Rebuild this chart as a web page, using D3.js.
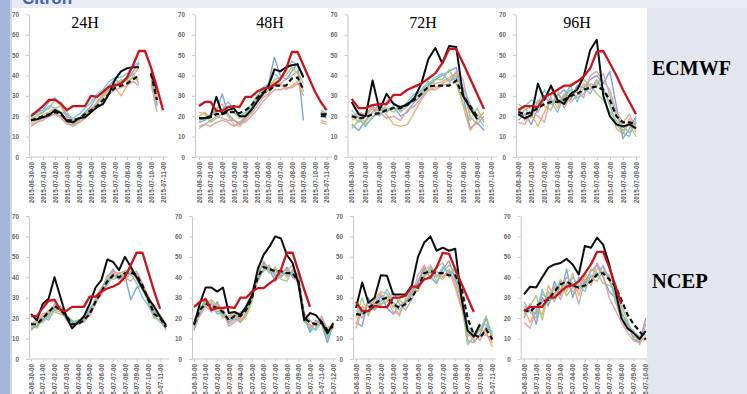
<!DOCTYPE html>
<html>
<head>
<meta charset="utf-8">
<script src="https://cdn.jsdelivr.net/npm/d3@7"></script>
<style>
  html, body { margin: 0; padding: 0; background: #e2e6ef; }
  svg { display: block; }
</style>
</head>
<body>
<svg id="chart" width="747" height="394"></svg>
<script>
// day labels on the x axis, data every 12 hours
const days = ["2015-06-30","2015-07-01","2015-07-02","2015-07-03","2015-07-04","2015-07-05","2015-07-06",
  "2015-07-07","2015-07-08","2015-07-09","2015-07-10","2015-07-11","2015-07-12"];
const halfDays = days.flatMap(d => [d + "-00", d + "-12"]);
const yTicks = [0, 10, 20, 30, 40, 50, 60, 70];
const leads = ["24H", "48H", "72H", "96H"];
const models = ["ECMWF", "NCEP"];

// ---- ECMWF ----
const obsEc24 = [20,22.5,25,28,28,26,23,25,25,25,30,29.5,32,34.5,35,36,39,45,52,52,44,34,23];
const ctlEc24 = [18,18.5,19.5,20.5,23,21.5,17.5,17,19,19.5,22,24.5,26,31,38,42,43.5,44,44,null,41,33,null];
const meanEc24 = [18,19,20,21,22,21,18,18,19,21,23,25,28,31,34,35,36,38,40,null,41,28,null];
const memEc24 = [
  [20,22,23,27,29,26,20,18,19,22,25,30,32,35,38,36,38,42,46,null,42,25,null],
  [17,18,21,22,24,25,19,16,18,20,24,26,29,33,34,30,35,40,44,null,40,30,null],
  [16,17,19,20,21,20,17,15,17,19,22,27,31,33,36,37,38,41,36,null,36,22,null],
  [19,20,22,24,28,27,22,17,18,21,23,27,30,34,35,38,37,39,38,null,38,27,null],
  [15,17,18,20,21,19,16,16,17,19,22,24,27,31,33,34,35,37,35,null,39,26,null],
  [21,21,22,25,24,22,21,19,21,24,27,31,33,37,39,39,41,44,47,null,41,32,null]
];

const obsEc48 = [25,27,27,22.5,22.5,24.5,25,24.5,29.5,29.5,32,33.5,34,35.5,38,43,51.5,51.5,45,38.5,32,27,23];
const ctlEc48 = [19,19,20,29.5,21,23,24,20,20,23,27,31,35,43,42,44,45,45.5,39,null,null,21,21];
const meanEc48 = [19,19,19.5,21,21,22,22,21.5,23,25,29,31.5,32.5,35,35,35,38.5,39,33,null,null,20,20];
const memEc48 = [
  [17,18,20,22,31,21,18,16,19,24,28,32,36,49,40,38,42,46,18,null,null,22,20],
  [20,22,19,24,26,20,16,15,18,22,27,30,33,37,36,33,35,37,30,null,null,18,17],
  [15,16,18,20,19,18,18,17,20,21,25,29,31,35,36,38,40,42,36,null,null,23,21],
  [22,21,17,19,21,25,22,19,21,26,30,33,34,38,39,40,44,41,32,null,null,20,22],
  [14,16,15,17,18,17,15,17,17,20,23,27,30,33,33,34,34,36,34,null,null,17,16],
  [18,19,21,23,23,27,24,20,22,24,29,34,36,41,38,42,47,45,40,null,null,21,19]
];

const obsEc72 = [28.5,24,24,25.5,26,26,30.5,30.5,33,34.5,36,38.5,41,46,53,53,46,38.5,31,23.5,null];
const ctlEc72 = [27,21,20,37.5,23,31,26,24.5,25.5,29,36,48,53.5,46,54.5,54,30,24,18.5,null,null];
const meanEc72 = [20,19,19.5,21,21.5,23,24,24,26,28,31,34.5,35,35,35,37.5,30,25,20,null,19];
const memEc72 = [
  [16,13,18,22,26,22,25,20,22,27,30,35,38,40,42,44,30,14,17,13,null],
  [18,20,17,22,24,21,16,15,16,22,28,33,34,36,38,40,25,13,18,22,null],
  [21,17,20,24,20,26,27,22,25,28,33,37,36,37,39,41,33,20,16,20,null],
  [14,18,16,19,23,24,22,25,26,29,31,34,38,38,43,36,26,18,24,17,null],
  [19,22,21,25,22,19,20,18,23,25,29,33,33,35,36,42,38,22,21,18,null],
  [23,19,15,20,21,23,24,23,27,31,32,36,39,41,37,39,34,26,20,15,null]
];

const obsEc96 = [23,25,25,24.5,29.5,31,33,35,35,37,39.5,43.5,51.7,52,46,40,33,27,21];
const ctlEc96 = [21,19,20.5,36,28,35,28,26,31,33,39.5,52.5,57.5,30,20,16,15,16,14];
const meanEc96 = [22,21,22,24,26,27,27,28,30,31,33,34,34.5,33,28,20,17,17,16];
const memEc96 = [
  [18,21,16,24,30,26,30,33,28,35,34,38,40,36,42,25,9,14,20],
  [24,18,21,15,22,29,24,31,27,30,36,33,38,32,27,14,11,19,12],
  [20,23,25,22,28,34,26,29,33,29,31,36,35,41,30,20,15,12,17],
  [26,24,19,28,25,23,31,27,36,37,38,35,31,28,22,18,13,16,10],
  [17,16,22,20,17,30,33,24,30,32,29,40,42,37,33,22,17,21,14],
  [22,25,28,26,33,27,22,30,35,27,34,31,37,34,25,16,12,10,19]
];

// ---- NCEP ----
const obsNc24 = [21,21,25,28.5,29,24,23.5,25.5,25.5,25.5,30.5,30.5,33,34.5,35.5,37,40,46,52,52,42.5,33,24.5,null];
const ctlNc24 = [22,19,27,29.5,40,30.5,20.7,15,18,20.7,27,35,38.6,48.7,47.5,43.5,50,45,40,34.5,29.6,25.6,20.7,16.6];
const meanNc24 = [17,17,20,23,26,24,21,17,17,19,22,28,33,38,41,40,42,42.5,41,36,29,22,20,15.6];
const memNc24 = [
  [15,16,19,22,25,26,22,18,17,19,23,29,34,40,44,39,41,29,35,36,29,22,21,16],
  [16,18,21,20,24,23,20,16,18,20,21,27,32,37,42,41,38,43,39,34,28,20,19,15],
  [14,17,18,21,27,25,19,17,19,18,22,30,35,39,40,42,43,41,43,37,30,23,21,17],
  [18,15,20,24,23,22,21,19,17,20,24,28,33,41,39,40,43,44,40,35,27,20,22,16],
  [17,19,22,23,26,24,22,16,18,21,23,29,31,38,43,42,40,38,42,36,31,24,20,14],
  [15,17,20,19,24,25,20,18,19,19,25,28,34,36,41,39,42,42,37,30,26,21,18,15]
];

const obsNc48 = [25.4,28,29.3,24,25,25,25.4,25,30,30,33,34.7,34.7,37,39,43.8,52,52,43,34,25.5,null,null,null,null];
const ctlNc48 = [16.7,27,35,35,33,35,22.5,23,21.6,25.7,31,44,51,55,60,59,51,47,37,19,22.5,21.5,18,12.6,17.5];
const meanNc48 = [17,24,27,26,25,23,19,21,21,24,30,40,45,44,43,43,42,42,38,20,18,17,18,14,16];
const memNc48 = [
  [14,22,29,24,28,22,18,20,18,23,29,42,47,44,38,41,45,40,39,21,13,19,17,8,17],
  [16,26,25,28,24,21,20,22,19,22,31,38,44,45,42,44,40,43,41,19,15,18,19,12,15],
  [18,23,30,25,23,25,17,19,22,26,33,41,48,43,44,40,43,46,36,22,19,16,20,15,17],
  [15,25,27,29,26,20,21,23,18,21,28,43,46,42,45,39,38,44,40,18,17,14,18,10,18],
  [17,21,26,23,27,24,16,18,20,25,32,39,44,46,40,42,44,41,37,23,16,17,21,13,16],
  [19,24,28,27,22,23,19,21,23,24,30,40,43,45,41,43,41,42,42,20,14,15,19,11,17]
];

const obsNc72 = [28,23.4,23.4,26,25.4,25.4,30,30,31,35.4,35.4,39,40,44.8,52,51.5,44,37,30,23,null,null,null];
const ctlNc72 = [25,37.4,27.5,30,41,40.7,31.6,31.6,31.6,36,50,57,60,53,54.5,53,54,30,14,11,17,null,null];
const meanNc72 = [22,21.5,25,27,29,30,27,25,27,30,35,42,43,42,42,41,41,35,20,12,10.5,14.5,9.5];
const memNc72 = [
  [18,16,30,24,31,25,22,26,28,32,38,45,40,37,44,48,39,30,9,8,12,20,10],
  [17,26,22,29,33,32,27,21,30,33,35,43,46,41,39,43,35,25,14,10,15,13,6],
  [24,20,28,24,27,28,33,27,24,29,37,44,42,45,47,40,45,33,11,13,9,16,12],
  [20,30,21,30,26,31,25,29,26,35,33,40,44,38,42,46,42,28,7,11,14,21,11],
  [15,24,26,27,32,29,23,22,29,31,41,46,39,43,40,44,37,26,13,9,11,12,8],
  [26,22,24,25,28,34,28,24,27,34,36,41,45,40,45,42,44,31,16,12,16,17,13]
];

const obsNc96 = [23.4,25.5,25.5,25.5,30,30,33,35.4,36,38,41.9,46.3,52.4,52.4,45,36,27,null,null,null,null];
const ctlNc96 = [31.6,35.4,35,40,44.7,46.3,47,49,46.3,41.4,55.3,54.5,59.4,56,46.3,34,20,15,12.8,9.8,13.6];
const meanNc96 = [24,23,26,28,29,33,36.5,38,36,35,36,38,41.4,42,39,35.7,29,21.8,17,13.6,9.5];
const memNc96 = [
  [20,27,17,30,26,38,31,44,30,40,37,43,46,40,33,30,22,18,10,8,20],
  [25,18,24,22,36,30,39,33,42,31,41,36,44,45,38,32,24,15,12,9,11],
  [28,23,20,32,29,35,34,40,37,27,39,40,38,43,41,28,20,16,14,7,17],
  [22,26,31,19,33,28,37,31,35,38,35,44,42,37,36,34,26,19,11,10,9],
  [18,15,24,28,30,36,29,37,33,34,42,38,47,41,30,24,18,13,9,8,19],
  [26,24,22,34,27,32,38,35,40,36,33,41,40,46,39,31,23,17,13,11,12]
];

const panels = [
  {obs: obsEc24, ctl: ctlEc24, mean: meanEc24, mem: memEc24},
  {obs: obsEc48, ctl: ctlEc48, mean: meanEc48, mem: memEc48},
  {obs: obsEc72, ctl: ctlEc72, mean: meanEc72, mem: memEc72},
  {obs: obsEc96, ctl: ctlEc96, mean: meanEc96, mem: memEc96},
  {obs: obsNc24, ctl: ctlNc24, mean: meanNc24, mem: memNc24},
  {obs: obsNc48, ctl: ctlNc48, mean: meanNc48, mem: memNc48},
  {obs: obsNc72, ctl: ctlNc72, mean: meanNc72, mem: memNc72},
  {obs: obsNc96, ctl: ctlNc96, mean: meanNc96, mem: memNc96}
];

// pixel layout of each pasted excel chart
const layout = [
  {x0: 31,    x1: 163,   axisX: 29,    axisEnd: 168, y0: 157, y70: 14.3},
  {x0: 199,   x1: 326.6, axisX: 195,   axisEnd: 332, y0: 157, y70: 14.3},
  {x0: 351.7, x1: 491,   axisX: 347.5, axisEnd: 497, y0: 157, y70: 14.3},
  {x0: 518.3, x1: 636,   axisX: 516,   axisEnd: 640, y0: 157, y70: 14.3},
  {x0: 31,    x1: 166,   axisX: 29,    axisEnd: 169, y0: 359, y70: 216},
  {x0: 194,   x1: 333.2, axisX: 192,   axisEnd: 336, y0: 359, y70: 216},
  {x0: 356,   x1: 492.4, axisX: 353,   axisEnd: 496, y0: 359, y70: 216},
  {x0: 524,   x1: 645.7, axisX: 520.7, axisEnd: 647, y0: 359, y70: 216}
];
const titlePos = [[85, 28], [270, 28], [423, 28], [577, 28]];
const memColors = ["#6f9bd1", "#f5a462", "#b4a99a", "#a3c46e", "#de9aa0", "#6cc3d6"];

const svg = d3.select("#chart");

// slide background
svg.append("rect").attr("x", 0).attr("y", 0).attr("width", 747).attr("height", 394).attr("fill", "#e2e6ef");
svg.append("rect").attr("x", 0).attr("y", 0).attr("width", 747).attr("height", 8).attr("fill", "#e8ebf2");
svg.append("rect").attr("x", 0).attr("y", 0).attr("width", 10).attr("height", 394).attr("fill", "#a6b6db");
svg.append("rect").attr("x", 10).attr("y", 0).attr("width", 2).attr("height", 394).attr("fill", "#cdd6eb");
svg.append("text").attr("x", 22).attr("y", 4).attr("font-family", "Liberation Sans, Arial, sans-serif")
  .attr("font-weight", "bold").attr("font-size", 17).attr("fill", "#3c62b3").text("Citron");
svg.append("rect").attr("x", 12).attr("y", 8).attr("width", 635).attr("height", 386).attr("fill", "#ffffff");

panels.forEach((p, k) => {
  const L = layout[k];
  const n = p.obs.length;
  const cats = halfDays.slice(0, n);
  const x = d3.scalePoint().domain(cats).range([L.x0, L.x1]);
  const y = d3.scaleLinear().domain([0, 70]).range([L.y0, L.y70]);
  const g = svg.append("g");

  // y axis
  g.append("g").attr("transform", `translate(${L.axisX},0)`)
    .call(d3.axisLeft(y).tickValues(yTicks).tickSize(3).tickPadding(7).tickSizeOuter(0))
    .call(a => a.select(".domain").attr("stroke", "#c8c8c8"))
    .call(a => a.selectAll(".tick line").attr("stroke", "#c8c8c8"))
    .call(a => a.selectAll(".tick text").attr("fill", "#6a6a6a").attr("font-size", 6.3)
      .attr("font-family", "Liberation Sans, Arial, sans-serif").attr("font-weight", "bold"));

  // x axis
  g.append("line").attr("x1", L.axisX).attr("x2", L.axisEnd).attr("y1", L.y0).attr("y2", L.y0)
    .attr("stroke", "#c8c8c8");
  g.append("g").attr("transform", `translate(0,${L.y0})`)
    .call(d3.axisBottom(x).tickValues(cats.filter((c, i) => i % 2 === 0)).tickSize(3))
    .call(a => a.select(".domain").remove())
    .call(a => a.selectAll(".tick line").attr("stroke", "#c8c8c8"))
    .call(a => a.selectAll(".tick text")
      .attr("transform", "rotate(-90)").attr("text-anchor", "end")
      .attr("x", -5).attr("y", 0).attr("dy", "0.35em")
      .attr("fill", "#5e5e5e").attr("font-size", 6.3)
      .attr("font-family", "Liberation Sans, Arial, sans-serif").attr("font-weight", "bold"));

  const line = d3.line()
    .defined(d => d.v != null)
    .x(d => x(d.c))
    .y(d => y(d.v));
  const pts = arr => arr.map((v, i) => ({c: cats[i], v}));

  p.mem.forEach((m, i) => {
    g.append("path").attr("d", line(pts(m))).attr("fill", "none")
      .attr("stroke", memColors[i % memColors.length]).attr("stroke-width", 1.4)
      .attr("stroke-opacity", 0.9).attr("stroke-linejoin", "round");
  });
  g.append("path").attr("d", line(pts(p.mean))).attr("fill", "none")
    .attr("stroke", "#111").attr("stroke-width", 2.2).attr("stroke-dasharray", "5,3");
  g.append("path").attr("d", line(pts(p.ctl))).attr("fill", "none")
    .attr("stroke", "#0d0d0d").attr("stroke-width", 2).attr("stroke-linejoin", "round");
  g.append("path").attr("d", line(pts(p.obs))).attr("fill", "none")
    .attr("stroke", "#c8141c").attr("stroke-width", 2.3).attr("stroke-linejoin", "round");
});

// lead time titles
leads.forEach((t, i) => {
  svg.append("text").attr("x", titlePos[i][0]).attr("y", titlePos[i][1]).attr("text-anchor", "middle")
    .attr("font-family", "Liberation Serif, Times New Roman, serif").attr("font-size", 16)
    .attr("fill", "#000").text(t);
});

// model labels
svg.append("text").attr("x", 652).attr("y", 75).attr("font-family", "Liberation Serif, Times New Roman, serif")
  .attr("font-weight", "bold").attr("font-size", 20).attr("fill", "#000").text(models[0]);
svg.append("text").attr("x", 652).attr("y", 288).attr("font-family", "Liberation Serif, Times New Roman, serif")
  .attr("font-weight", "bold").attr("font-size", 20.5).attr("fill", "#000").text(models[1]);
</script>
</body>
</html>
